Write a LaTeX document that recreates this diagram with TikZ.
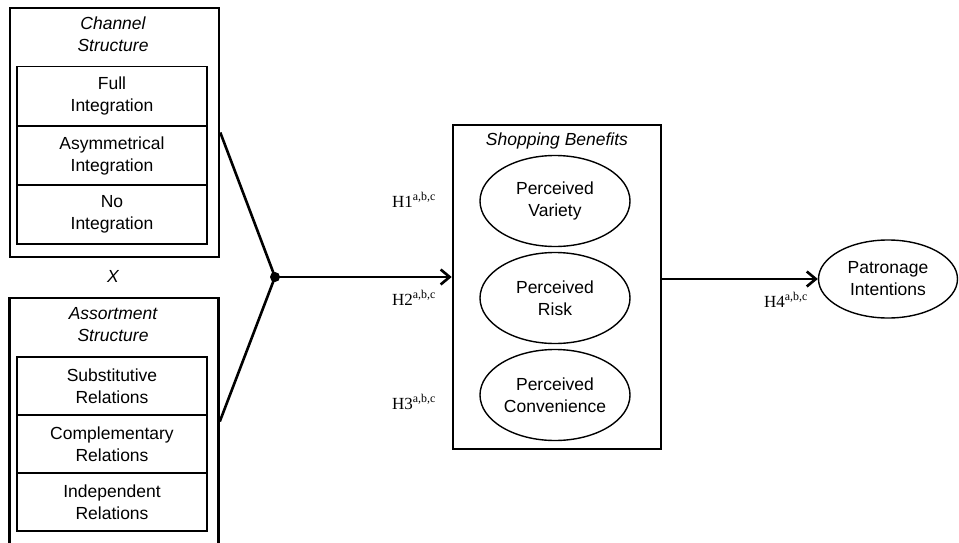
\documentclass[tikz,border=0pt]{standalone}
\usepackage{fontspec}
\setmainfont{Liberation Sans}
\newfontfamily\hypfont{Liberation Serif}
\usetikzlibrary{arrows.meta,positioning,shapes.geometric}
\tikzset{
  grp/.style={draw,line width=2.6pt,minimum width=209pt,inner sep=0pt},
  item/.style={draw,line width=1.4pt,minimum width=190pt,minimum height=59pt,align=center,inner sep=0pt,font=\fontsize{17.5}{22}\selectfont},
  ttl/.style={align=center,font=\fontsize{17.5}{22}\selectfont\itshape},
  oval/.style={ellipse,draw,line width=1.4pt,minimum width=150pt,minimum height=91pt,inner sep=0pt,align=center,font=\fontsize{17.5}{22}\selectfont},
  hyp/.style={font=\fontsize{17}{20}\selectfont\hypfont},
  link/.style={line width=2.6pt},
  ar/.style={link,-{Straight Barb[length=9pt,width=15pt]}}
}

\begin{document}
\begin{tikzpicture}[x=1pt,y=-1pt]
\useasboundingbox (0,0) rectangle (959,543);
\clip (0,0) rectangle (959,543);
% channel structure
\node[grp,minimum height=249pt] (chan) at (114.5,132.5) {};
\node[ttl] (chant) at (113,34) {Channel\\Structure};
\node[item] (full) at (112,96) {Full\\Integration};
\node[item] (asym) at (112,155.5) {Asymmetrical\\Integration};
\node[item] (noint) at (112,214.5) {No\\Integration};
\node[ttl] (cross) at (113,276) {X};
% assortment structure
\node[grp,minimum height=247pt] (asrt) at (114,421.5) {};
\node[ttl] (asrtt) at (113,325) {Assortment\\Structure};
\node[item,minimum height=58pt] (subst) at (112,386) {Substitutive\\Relations};
\node[item,minimum height=58pt] (compl) at (112,444) {Complementary\\Relations};
\node[item,minimum height=58pt] (indep) at (112,502) {Independent\\Relations};
% shopping benefits
\node[draw,line width=2.6pt,minimum width=208pt,minimum height=324pt,inner sep=0pt] (shop) at (557,287) {};
\node[ttl] (shopt) at (557,141) {Shopping Benefits};
\node[oval] (var) at (555,201) {Perceived\\Variety};
\node[oval] (risk) at (555,298) {Perceived\\Risk};
\node[oval] (conv) at (555,395) {Perceived\\Convenience};
\node[oval,minimum width=139pt,minimum height=78pt] (patr) at (888,279) {Patronage\\Intentions};
% hypotheses
\node[hyp] (h1) at (414,200) {H1\textsuperscript{a,b,c}};
\node[hyp] (h2) at (414,298) {H2\textsuperscript{a,b,c}};
\node[hyp] (h3) at (414,402) {H3\textsuperscript{a,b,c}};
\node[hyp] (h4) at (786,300) {H4\textsuperscript{a,b,c}};
% connectors
\fill (275,277) circle (5pt) coordinate (join);
\draw[link] (chan.east) -- (join);
\draw[link] (asrt.east) -- (join);
\draw[ar] (join) -- (join -| shop.west);
\draw[ar] (shop.east |- patr.west) -- (patr.west);
\end{tikzpicture}
\end{document}
